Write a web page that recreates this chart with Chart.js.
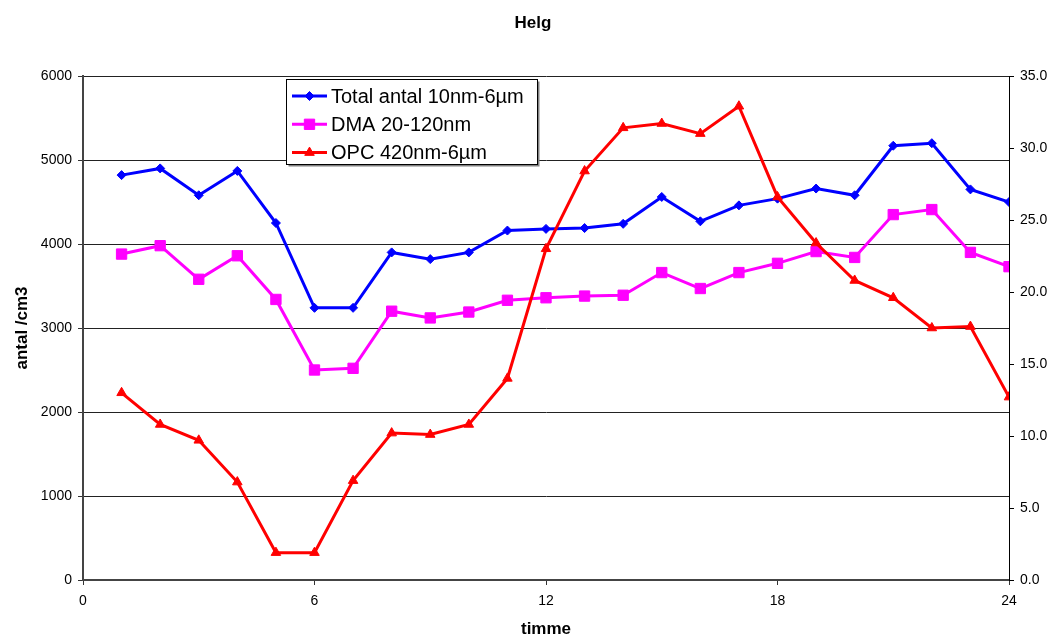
<!DOCTYPE html>
<html>
<head>
<meta charset="utf-8">
<script src="https://cdn.jsdelivr.net/npm/chart.js@4/dist/chart.umd.min.js"></script>
<style>
  html, body { margin: 0; padding: 0; background: #fff; }
  #wrap { width: 1051px; height: 637px; position: relative; }
</style>
</head>
<body>
<div id="wrap"><canvas id="c"></canvas></div>
<script>
// Hour of day (x) and the three measured series
const hours = [1, 2, 3, 4, 5, 6, 7, 8, 9, 10, 11, 12, 13, 14, 15, 16, 17, 18, 19, 20, 21, 22, 23, 24];
const totalAntal = [4820, 4900, 4580, 4870, 4250, 3240, 3240, 3900, 3820, 3900, 4160, 4180,
                    4190, 4240, 4560, 4270, 4460, 4540, 4660, 4580, 5170, 5200, 4650, 4500];
const dma = [3880, 3980, 3580, 3860, 3340, 2500, 2520, 3200, 3120, 3190, 3330, 3360,
             3380, 3390, 3660, 3470, 3660, 3770, 3910, 3840, 4350, 4410, 3900, 3730];
const opc = [13.0, 10.8, 9.7, 6.8, 1.9, 1.9, 6.9, 10.2, 10.1, 10.8, 14.0, 23.0,
             28.4, 31.4, 31.7, 31.0, 32.9, 26.6, 23.4, 20.8, 19.6, 17.5, 17.6, 12.7];

const seriesNames = ['Total antal 10nm-6µm', 'DMA 20-120nm', 'OPC 420nm-6µm'];
const xTicks = [0, 6, 12, 18, 24];

const FONT = '"Liberation Sans", Arial, sans-serif';
Chart.defaults.font.family = FONT;
Chart.defaults.color = '#000';

const pts = (vals) => hours.map((h, i) => ({ x: h, y: vals[i] }));

// Boxed legend drawn inside the plot area
const boxLegend = {
  id: 'boxLegend',
  afterDraw(chart) {
    const ctx = chart.ctx;
    const x0 = 286.5, y0 = 79.5, w = 251, h = 85;
    ctx.save();
    ctx.fillStyle = '#808080';
    ctx.fillRect(x0 + 2, y0 + 2, w, h);
    ctx.fillStyle = '#fff';
    ctx.fillRect(x0, y0, w, h);
    ctx.strokeStyle = '#000';
    ctx.lineWidth = 1;
    ctx.strokeRect(x0, y0, w, h);
    chart.data.datasets.forEach((ds, i) => {
      const y = 96 + i * 28.3;
      ctx.strokeStyle = ds.borderColor;
      ctx.lineWidth = ds.borderWidth;
      ctx.beginPath();
      ctx.moveTo(292, y);
      ctx.lineTo(327, y);
      ctx.stroke();
      ctx.fillStyle = ds.pointBackgroundColor;
      ctx.strokeStyle = ds.pointBorderColor;
      ctx.lineWidth = 1;
      Chart.helpers.drawPoint(ctx, { pointStyle: ds.pointStyle, radius: ds.pointRadius, borderWidth: 1, rotation: 0 }, 309.5, y);
      ctx.fillStyle = '#000';
      ctx.font = '20px ' + FONT;
      ctx.textBaseline = 'middle';
      ctx.textAlign = 'left';
      ctx.fillText(ds.label, 331, y + 1);
    });
    ctx.restore();
  }
};

// Nudge the chart title slightly right of the canvas centre
const titleShift = {
  id: 'titleShift',
  afterLayout(chart) {
    if (chart.titleBlock) chart.titleBlock.left += 15;
  }
};

new Chart(document.getElementById('c'), {
  type: 'line',
  data: {
    datasets: [
      {
        label: seriesNames[0], data: pts(totalAntal), yAxisID: 'y', order: 3,
        borderColor: '#0000ff', backgroundColor: '#0000ff', borderWidth: 3,
        pointStyle: 'rectRot', pointRadius: 4.5, pointBackgroundColor: '#0000ff', pointBorderColor: '#0000ff', pointBorderWidth: 1,
        tension: 0
      },
      {
        label: seriesNames[1], data: pts(dma), yAxisID: 'y', order: 2,
        borderColor: '#ff00ff', backgroundColor: '#ff00ff', borderWidth: 3,
        pointStyle: 'rect', pointRadius: 7.3, pointBackgroundColor: '#ff00ff', pointBorderColor: '#ff00ff', pointBorderWidth: 1,
        tension: 0
      },
      {
        label: seriesNames[2], data: pts(opc), yAxisID: 'y2', order: 1,
        borderColor: '#ff0000', backgroundColor: '#ff0000', borderWidth: 3,
        pointStyle: 'triangle', pointRadius: 5.5, pointBackgroundColor: '#ff0000', pointBorderColor: '#ff0000', pointBorderWidth: 1,
        tension: 0
      }
    ]
  },
  options: {
    responsive: true,
    maintainAspectRatio: false,
    animation: false,
    devicePixelRatio: 1,
    layout: { padding: 0 },
    plugins: {
      legend: { display: false },
      tooltip: { enabled: false },
      title: {
        display: true, text: 'Helg', color: '#000',
        font: { size: 17, weight: 'bold', family: FONT },
        padding: { top: 13, bottom: 42.6 }
      }
    },
    scales: {
      x: {
        type: 'linear', min: 0, max: 24,
        afterBuildTicks(scale) { scale.ticks = xTicks.map(v => ({ value: v })); },
        afterFit(scale) { scale.height = 57; },
        grid: { drawOnChartArea: false, drawTicks: true, tickLength: 5, tickColor: '#333', tickWidth: 1 },
        border: { display: true, color: '#444', width: 2 },
        ticks: { font: { size: 14 }, padding: 8, maxRotation: 0, callback: v => String(v) },
        title: { display: true, text: 'timme', font: { size: 17, weight: 'bold' }, padding: { top: 0, bottom: -3 } }
      },
      y: {
        position: 'left', min: 0, max: 6000,
        afterFit(scale) { scale.width = 83; },
        grid: { color: '#222', lineWidth: 1, drawTicks: true, tickLength: 5, tickColor: '#333' },
        border: { display: true, color: '#444', width: 2 },
        ticks: { stepSize: 1000, font: { size: 14 }, padding: 6, callback: v => String(v) },
        title: { display: true, text: 'antal /cm3', font: { size: 17, weight: 'bold' }, padding: { top: 12, bottom: 0 } }
      },
      y2: {
        position: 'right', min: 0, max: 35,
        afterFit(scale) { scale.width = 42; },
        grid: { drawOnChartArea: false, drawTicks: true, tickLength: 5, tickColor: '#000' },
        border: { display: true, color: '#000', width: 1 },
        ticks: { stepSize: 5, font: { size: 14 }, padding: 6, callback: v => v.toFixed(1) }
      }
    }
  },
  plugins: [titleShift, boxLegend]
});
</script>
</body>
</html>
